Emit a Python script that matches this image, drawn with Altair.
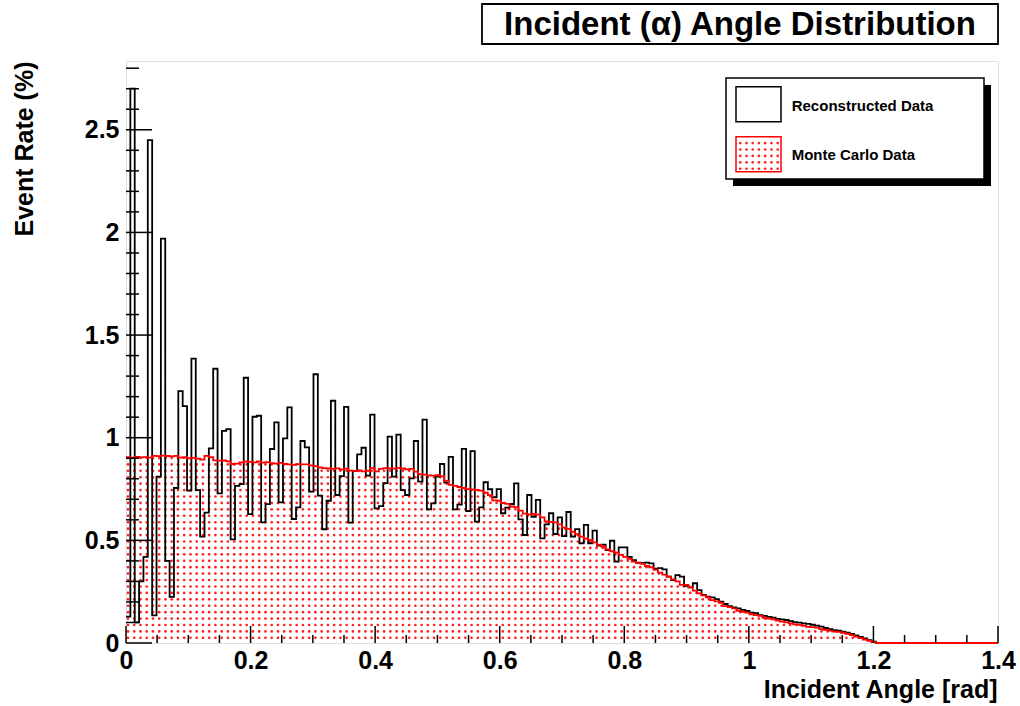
import altair as alt
import pandas as pd

# ---------------- data ----------------
N_BINS = 200
X_MIN, X_MAX = 0.0, 1.4
Y_MAX = 2.835
BIN_W = (X_MAX - X_MIN) / N_BINS

reco = [
    0.128, 2.700, 0.100, 0.300, 0.420, 2.450, 0.135, 0.810, 1.970, 0.400,
    0.225, 0.755, 1.227, 1.154, 0.742, 1.385, 0.745, 0.518, 0.635, 0.948,
    1.336, 0.729, 1.033, 1.042, 0.505, 0.765, 0.774, 1.292, 0.628, 1.102,
    1.107, 0.588, 0.676, 0.945, 1.075, 0.685, 0.997, 1.148, 0.604, 0.661,
    0.984, 0.953, 0.737, 1.309, 0.718, 0.554, 0.693, 1.180, 0.721, 0.813,
    1.150, 0.586, 0.838, 0.919, 0.951, 0.815, 1.112, 0.656, 0.667, 0.779,
    1.005, 0.810, 1.015, 0.745, 0.721, 0.802, 0.984, 0.786, 1.088, 0.651,
    0.680, 0.810, 0.872, 0.781, 0.907, 0.651, 0.674, 0.946, 0.643, 0.935,
    0.591, 0.661, 0.783, 0.749, 0.710, 0.750, 0.632, 0.659, 0.677, 0.778,
    0.602, 0.526, 0.721, 0.615, 0.697, 0.510, 0.578, 0.632, 0.531, 0.612,
    0.521, 0.638, 0.518, 0.555, 0.486, 0.575, 0.486, 0.547, 0.474, 0.479,
    0.453, 0.498, 0.396, 0.466, 0.466, 0.420, 0.404, 0.391, 0.390, 0.392,
    0.388, 0.362, 0.365, 0.359, 0.323, 0.307, 0.331, 0.323, 0.278, 0.271,
    0.291, 0.258, 0.234, 0.226, 0.222, 0.214, 0.201, 0.190, 0.180, 0.174,
    0.169, 0.161, 0.156, 0.148, 0.145, 0.136, 0.132, 0.127, 0.124, 0.118,
    0.115, 0.112, 0.107, 0.102, 0.099, 0.096, 0.093, 0.089, 0.085, 0.080,
    0.073, 0.067, 0.062, 0.060, 0.055, 0.050, 0.044, 0.037, 0.030, 0.022,
    0.014, 0.006, 0.0, 0.0, 0.0, 0.0, 0.0, 0.0, 0.0, 0.0,
    0.0, 0.0, 0.0, 0.0, 0.0, 0.0, 0.0, 0.0, 0.0, 0.0,
    0.0, 0.0, 0.0, 0.0, 0.0, 0.0, 0.0, 0.0, 0.0, 0.0,
]

mc = [
    0.905, 0.903, 0.906, 0.904, 0.905, 0.903, 0.912, 0.910, 0.913, 0.911,
    0.909, 0.912, 0.903, 0.905, 0.900, 0.902, 0.898, 0.893, 0.912, 0.905,
    0.890, 0.888, 0.889, 0.885, 0.872, 0.874, 0.880, 0.884, 0.882, 0.880,
    0.884, 0.879, 0.881, 0.876, 0.874, 0.877, 0.872, 0.870, 0.868, 0.871,
    0.870, 0.870, 0.865, 0.862, 0.855, 0.852, 0.850, 0.848, 0.851, 0.846,
    0.849, 0.840, 0.838, 0.841, 0.836, 0.839, 0.852, 0.836, 0.848, 0.852,
    0.850, 0.849, 0.853, 0.850, 0.846, 0.848, 0.835, 0.822, 0.820, 0.817,
    0.815, 0.818, 0.813, 0.790, 0.770, 0.765, 0.760, 0.755, 0.750, 0.748,
    0.745, 0.742, 0.732, 0.720, 0.695, 0.693, 0.682, 0.678, 0.665, 0.662,
    0.645, 0.630, 0.627, 0.629, 0.625, 0.612, 0.592, 0.590, 0.588, 0.578,
    0.562, 0.556, 0.542, 0.530, 0.518, 0.508, 0.502, 0.490, 0.478, 0.470,
    0.456, 0.447, 0.440, 0.429, 0.420, 0.410, 0.396, 0.390, 0.385, 0.375,
    0.369, 0.356, 0.343, 0.333, 0.323, 0.310, 0.300, 0.283, 0.283, 0.271,
    0.255, 0.242, 0.232, 0.222, 0.209, 0.203, 0.196, 0.180, 0.175, 0.169,
    0.157, 0.152, 0.148, 0.140, 0.136, 0.132, 0.123, 0.119, 0.115, 0.109,
    0.104, 0.100, 0.096, 0.091, 0.088, 0.084, 0.079, 0.077, 0.075, 0.068,
    0.064, 0.060, 0.056, 0.054, 0.050, 0.045, 0.038, 0.031, 0.024, 0.017,
    0.010, 0.004, 0.0, 0.0, 0.0, 0.0, 0.0, 0.0, 0.0, 0.0,
    0.0, 0.0, 0.0, 0.0, 0.0, 0.0, 0.0, 0.0, 0.0, 0.0,
    0.0, 0.0, 0.0, 0.0, 0.0, 0.0, 0.0, 0.0, 0.0, 0.0,
]

x_major = [0, 0.2, 0.4, 0.6, 0.8, 1.0, 1.2, 1.4]
x_minor = [0.05, 0.1, 0.15, 0.25, 0.3, 0.35, 0.45, 0.5, 0.55, 0.65, 0.7, 0.75,
           0.85, 0.9, 0.95, 1.05, 1.1, 1.15, 1.25, 1.3, 1.35]
y_major = [0, 0.5, 1.0, 1.5, 2.0, 2.5]
y_minor = [0.1, 0.2, 0.3, 0.4, 0.6, 0.7, 0.8, 0.9, 1.1, 1.2, 1.3, 1.4, 1.6, 1.7,
           1.8, 1.9, 2.1, 2.2, 2.3, 2.4, 2.6, 2.7, 2.8]

title_text = "Incident (\u03b1) Angle Distribution"
x_title = "Incident Angle [rad]"
y_title = "Event Rate (%)"
legend_labels = ["Reconstructed Data", "Monte Carlo Data"]

# ---------------- layout / style ----------------
PLOT_W, PLOT_H = 872, 582
FONT = "Liberation Sans"
RED = "#ff0000"
DOT_RED = "#ff2020"
DOT_SIZE = 7

# dotted fill pattern (ROOT style fill) spacing in data units
DX, DY = 0.01003, 0.0313
X0, Y0 = 0.0032, 0.025

edges = [round(i * BIN_W, 6) for i in range(N_BINS)] + [X_MAX]
hist_df = pd.DataFrame({
    "x": edges,
    "reco": reco + [reco[-1]],
    "mc": mc + [mc[-1]],
})


def pattern_points(x_lo, x_hi, top_fn, y_lo=0.0):
    pts = []
    i = 0
    while True:
        xc = X0 + i * DX
        i += 1
        if xc >= x_hi:
            break
        if xc <= x_lo:
            continue
        top = top_fn(xc)
        j = 0
        while True:
            yc = Y0 + j * DY
            j += 1
            if yc >= top:
                break
            if yc <= y_lo:
                continue
            pts.append({"x": xc, "y": yc})
    return pts


def mc_top(xc):
    b = min(int(xc / BIN_W), N_BINS - 1)
    return mc[b]


dots_df = pd.DataFrame(pattern_points(0.0, X_MAX, mc_top))


def px_x(px):
    return px / PLOT_W * (X_MAX - X_MIN)


def px_y(py):
    return (1 - py / PLOT_H) * Y_MAX


SW_X0, SW_X1 = 610, 655
SW2_Y0, SW2_Y1 = 75.7, 110.7
leg_dots_df = pd.DataFrame(pattern_points(px_x(SW_X0 + 1), px_x(SW_X1 - 1),
                                          lambda _x: px_y(SW2_Y0 + 1.5),
                                          y_lo=px_y(SW2_Y1 - 1.5)))

XS = alt.Scale(domain=[X_MIN, X_MAX], nice=False, zero=False)
YS = alt.Scale(domain=[0, Y_MAX], nice=False, zero=False)

XA = alt.Axis(values=x_major, format=".1~f", labelFont=FONT, labelFontSize=25,
              labelFontWeight="bold", labelColor="black", labelPadding=5,
              labelFlush=False, labelOverlap=False, ticks=False, domain=False,
              grid=False, title=x_title, titleFont=FONT, titleFontSize=25,
              titleFontWeight="bold", titleColor="black", titleX=871, titleY=54,
              titleAlign="right", titleBaseline="alphabetic")
YA = alt.Axis(values=y_major, format=".1~f", labelFont=FONT, labelFontSize=25,
              labelFontWeight="bold", labelColor="black", labelPadding=7,
              labelFlush=False, labelOverlap=False, ticks=False, domain=False,
              grid=False, title=y_title, titleFont=FONT, titleFontSize=25,
              titleFontWeight="bold", titleColor="black", titleAngle=270,
              titleX=-102, titleY=0, titleAlign="right", titleBaseline="middle")


def X(field):
    return alt.X(field, type="quantitative", scale=XS, axis=XA)


def Y(field):
    return alt.Y(field, type="quantitative", scale=YS, axis=YA)


dummy = alt.Data(values=[{}])

dots = alt.Chart(dots_df).mark_circle(size=DOT_SIZE, color=DOT_RED, opacity=1).encode(
    x=X("x"), y=Y("y"))

reco_line = alt.Chart(hist_df).mark_line(interpolate="step-after", color="black",
                                         strokeWidth=1.8).encode(x=X("x"), y=Y("reco"))
mc_line = alt.Chart(hist_df).mark_line(interpolate="step-after", color=RED,
                                       strokeWidth=1.8).encode(x=X("x"), y=Y("mc"))

xmaj = alt.Chart(pd.DataFrame({"x": x_major})).mark_rule(color="black", strokeWidth=1.5).encode(
    x=X("x"), y=alt.value(PLOT_H), y2=alt.value(PLOT_H - 17))
xmin = alt.Chart(pd.DataFrame({"x": x_minor})).mark_rule(color="black", strokeWidth=1.5).encode(
    x=X("x"), y=alt.value(PLOT_H), y2=alt.value(PLOT_H - 8))
ymaj = alt.Chart(pd.DataFrame({"y": y_major})).mark_rule(color="black", strokeWidth=1.5).encode(
    y=Y("y"), x=alt.value(0), x2=alt.value(26))
ymin = alt.Chart(pd.DataFrame({"y": y_minor})).mark_rule(color="black", strokeWidth=1.5).encode(
    y=Y("y"), x=alt.value(0), x2=alt.value(13))


def box(x1, y1, x2, y2, **kw):
    return alt.Chart(dummy).mark_rect(**kw).encode(
        x=alt.value(x1), x2=alt.value(x2), y=alt.value(y1), y2=alt.value(y2))


def label(txt, x, y, size, align="left"):
    return alt.Chart(dummy).mark_text(text=txt, font=FONT, fontSize=size, fontWeight="bold",
                                      color="black", align=align, baseline="middle").encode(
        x=alt.value(x), y=alt.value(y))


leg_shadow = box(607, 24, 865, 125, fill="black")
leg_box = box(600, 17, 858, 118, fill="white", stroke="black", strokeWidth=1.5)
sw1 = box(SW_X0, 25.7, SW_X1, 60.7, fill="white", stroke="black", strokeWidth=1.5)
sw2 = box(SW_X0, SW2_Y0, SW_X1, SW2_Y1, fill="white", stroke=RED, strokeWidth=1.5)
leg_dots = alt.Chart(leg_dots_df).mark_circle(size=DOT_SIZE, color=DOT_RED, opacity=1).encode(
    x=X("x"), y=Y("y"))
t1 = label(legend_labels[0], 665.7, 44.7, 15)
t2 = label(legend_labels[1], 665.7, 94, 15)

title_box = box(356, -57, 872, -17, fill="white", stroke="black", strokeWidth=1.8)
title_lbl = label(title_text, 614, -36, 33, align="center")

chart = alt.layer(
    dots, reco_line, mc_line, xmaj, xmin, ymaj, ymin,
    leg_shadow, leg_box, sw1, sw2, leg_dots, t1, t2, title_box, title_lbl,
).properties(
    width=PLOT_W, height=PLOT_H,
    autosize=alt.AutoSizeParams(type="none"),
    padding={"left": 126, "top": 61, "right": 22, "bottom": 63},
).configure_view(stroke="black", strokeWidth=2).configure(background="white")

chart.save("out.html", embed_options={"renderer": "svg", "actions": False})
